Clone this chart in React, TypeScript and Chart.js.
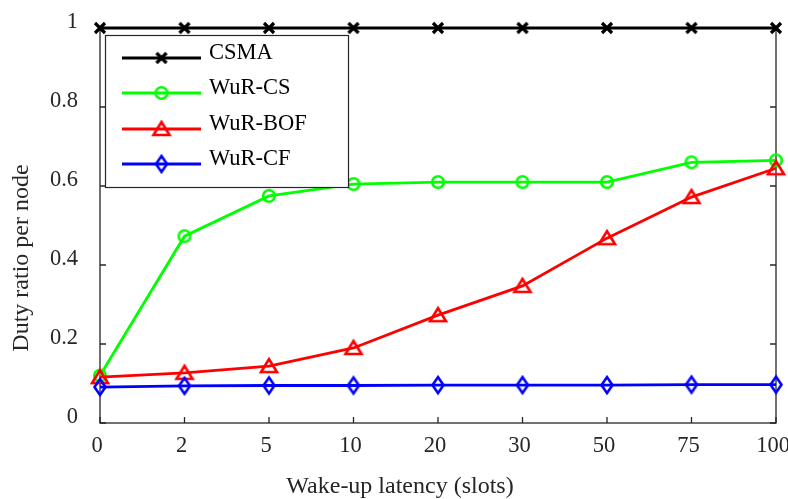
import React, { useEffect, useRef } from 'react';
import { Chart, registerables } from 'chart.js';

Chart.register(...registerables);

const categories = ['0', '2', '5', '10', '20', '30', '50', '75', '100'];
const seriesNames = ['CSMA', 'WuR-CS', 'WuR-BOF', 'WuR-CF'];
const csma = [1, 1, 1, 1, 1, 1, 1, 1, 1];
const wurCS = [0.12, 0.473, 0.575, 0.605, 0.61, 0.61, 0.61, 0.66, 0.665];
const wurBOF = [0.116, 0.127, 0.144, 0.19, 0.273, 0.347, 0.468, 0.572, 0.645];
const wurCF = [0.091, 0.094, 0.095, 0.095, 0.096, 0.096, 0.096, 0.097, 0.097];
const yTicks = [0, 0.2, 0.4, 0.6, 0.8, 1];
const xTitle = 'Wake-up latency (slots)';
const yTitle = 'Duty ratio per node';

const FONT = "'Liberation Serif', 'Times New Roman', serif";
const AXIS_COLOR = '#262626';
const FS = 22.5;
const TITLE_FS = 24;

type Kind = 'cross' | 'circle' | 'triangle' | 'diamond';

function makeMarker(kind: Kind, color: string): HTMLCanvasElement {
  const c = document.createElement('canvas');
  c.width = 26;
  c.height = 26;
  const ctx = c.getContext('2d')!;
  const m = 13;
  ctx.strokeStyle = color;
  ctx.lineJoin = 'miter';
  ctx.beginPath();
  if (kind === 'cross') {
    ctx.lineWidth = 3.2;
    ctx.moveTo(m - 5, m - 5);
    ctx.lineTo(m + 5, m + 5);
    ctx.moveTo(m + 5, m - 5);
    ctx.lineTo(m - 5, m + 5);
  } else if (kind === 'circle') {
    ctx.lineWidth = 2.6;
    ctx.arc(m, m, 5.8, 0, Math.PI * 2);
  } else if (kind === 'triangle') {
    ctx.lineWidth = 2.6;
    ctx.moveTo(m, m - 7);
    ctx.lineTo(m + 8, m + 6);
    ctx.lineTo(m - 8, m + 6);
    ctx.closePath();
  } else {
    ctx.lineWidth = 2.6;
    ctx.moveTo(m, m - 8);
    ctx.lineTo(m + 5.5, m);
    ctx.lineTo(m, m + 8);
    ctx.lineTo(m - 5.5, m);
    ctx.closePath();
  }
  ctx.stroke();
  return c;
}

const framePlugin = {
  id: 'matlabFrame',
  beforeDatasetsDraw(chart: any) {
    const { ctx, chartArea: a, scales } = chart;
    const xs = scales.x;
    const ys = scales.y;
    ctx.save();
    ctx.strokeStyle = AXIS_COLOR;
    ctx.lineWidth = 1.3;
    ctx.strokeRect(a.left, a.top, a.right - a.left, a.bottom - a.top);
    ctx.beginPath();
    xs.ticks.forEach((_t: any, i: number) => {
      const px = xs.getPixelForTick(i);
      ctx.moveTo(px, a.bottom);
      ctx.lineTo(px, a.bottom - 6);
    });
    ys.ticks.forEach((_t: any, i: number) => {
      const py = ys.getPixelForTick(i);
      ctx.moveTo(a.left, py);
      ctx.lineTo(a.left + 6, py);
      ctx.moveTo(a.right, py);
      ctx.lineTo(a.right - 6, py);
    });
    ctx.stroke();
    ctx.fillStyle = AXIS_COLOR;
    ctx.font = `${TITLE_FS}px ${FONT}`;
    ctx.textAlign = 'center';
    ctx.textBaseline = 'alphabetic';
    ctx.fillText(xTitle, 400, 493);
    ctx.translate(28, 258);
    ctx.rotate(-Math.PI / 2);
    ctx.fillText(yTitle, 0, 0);
    ctx.restore();
  },
};

const legendPlugin = {
  id: 'boxLegend',
  afterDraw(chart: any) {
    const { ctx } = chart;
    const left = 105.5, top = 35.5, w = 243, h = 152;
    ctx.save();
    ctx.fillStyle = '#ffffff';
    ctx.fillRect(left, top, w, h);
    ctx.strokeStyle = AXIS_COLOR;
    ctx.lineWidth = 1.2;
    ctx.strokeRect(left, top, w, h);
    const rows = [58, 93, 129, 164];
    chart.data.datasets.forEach((ds: any, i: number) => {
      const y = rows[i];
      ctx.strokeStyle = ds.borderColor;
      ctx.lineWidth = ds.borderWidth;
      ctx.beginPath();
      ctx.moveTo(122, y);
      ctx.lineTo(201, y);
      ctx.stroke();
      const img = ds.pointStyle as HTMLCanvasElement;
      ctx.drawImage(img, 161.5 - img.width / 2, y - img.height / 2);
      ctx.fillStyle = '#000000';
      ctx.font = `${FS}px ${FONT}`;
      ctx.textAlign = 'left';
      ctx.textBaseline = 'alphabetic';
      ctx.fillText(ds.label, 209, y + 0.5);
    });
    ctx.restore();
  },
};

export default function App() {
  const ref = useRef<HTMLCanvasElement>(null);

  useEffect(() => {
    const colors = ['#000000', '#00ff00', '#ff0000', '#0000ff'];
    const kinds: Kind[] = ['cross', 'circle', 'triangle', 'diamond'];
    const values = [csma, wurCS, wurBOF, wurCF];
    const datasets = seriesNames.map((name, i) => {
      const marker = makeMarker(kinds[i], colors[i]);
      return {
        label: name,
        data: values[i],
        borderColor: colors[i],
        backgroundColor: colors[i],
        borderWidth: 2.8,
        pointStyle: marker,
        pointRadius: 6,
        pointHoverRadius: 6,
        tension: 0,
        clip: false as any,
        order: 3 - i,
      };
    });

    const chart = new Chart(ref.current!, {
      type: 'line',
      data: { labels: categories, datasets },
      options: {
        animation: false,
        responsive: true,
        maintainAspectRatio: false,
        layout: { padding: { left: 0, top: 28, right: 12, bottom: 0 } },
        plugins: {
          legend: { display: false },
          tooltip: { enabled: false },
        },
        events: [],
        scales: {
          x: {
            type: 'category',
            offset: false,
            grid: { display: false },
            border: { display: false },
            ticks: {
              color: AXIS_COLOR,
              font: { family: FONT, size: FS },
              padding: 2,
              labelOffset: -3,
              maxRotation: 0,
              autoSkip: false,
            },
            afterFit(scale: any) {
              scale.height = 76;
              scale.paddingLeft = 0;
              scale.paddingRight = 0;
            },
          },
          y: {
            min: 0,
            max: 1,
            grid: { display: false },
            border: { display: false },
            afterBuildTicks(scale: any) {
              scale.ticks = yTicks.map((v) => ({ value: v }));
            },
            ticks: {
              color: AXIS_COLOR,
              font: { family: FONT, size: FS },
              padding: 14,
              labelOffset: -6,
              callback: (v: any) => String(v),
            },
            afterFit(scale: any) {
              scale.width = 100;
              scale.paddingTop = 0;
              scale.paddingBottom = 0;
            },
          },
        },
      },
      plugins: [framePlugin, legendPlugin],
    });
    return () => chart.destroy();
  }, []);

  return (
    <div style={{ position: 'absolute', left: 0, top: 0, width: 788, height: 499 }}>
      <canvas ref={ref} />
    </div>
  );
}
